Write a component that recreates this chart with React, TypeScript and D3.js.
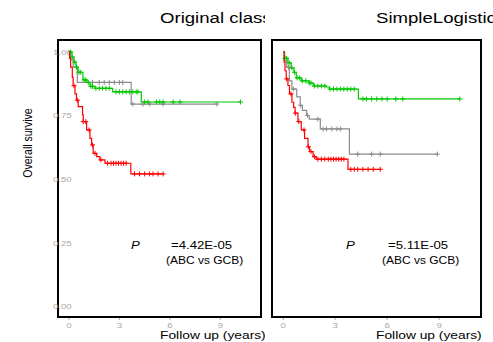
import React from 'react';
import * as d3 from 'd3';

type Step = [number, number];

// Original class panel: [time (years), survival] steps
const origGcb: Step[] = [[0, 1], [0.18, 0.98], [0.3, 0.96], [0.42, 0.94], [0.54, 0.92], [0.83, 0.89], [1.07, 0.88], [1.25, 0.865], [1.55, 0.857], [2.6, 0.843], [4.3, 0.803]];
const origGcbEnd = 10.2;
const origGcbCensor = [0.1, 0.2, 0.35, 0.45, 0.6, 0.7, 0.9, 1.0, 1.15, 1.3, 1.4, 1.6, 1.8, 2.0, 2.2, 2.4, 2.8, 3.0, 3.2, 3.4, 3.6, 3.8, 4.0, 4.1, 4.5, 4.7, 5.2, 5.4, 5.6, 6.2, 6.6, 10.2];

const origUnc: Step[] = [[0, 1], [0.1, 0.97], [0.25, 0.94], [0.5, 0.88], [3.7, 0.795]];
const origUncEnd = 8.8;
const origUncCensor = [1.4, 1.8, 2.1, 2.4, 2.7, 3.0, 3.2, 3.8, 4.4, 4.8, 5.6, 8.8];

const origAbc: Step[] = [[0, 1], [0.04, 0.975], [0.1, 0.94], [0.2, 0.9], [0.25, 0.867], [0.36, 0.835], [0.45, 0.81], [0.55, 0.785], [0.81, 0.752], [0.85, 0.726], [1.05, 0.693], [1.25, 0.66], [1.35, 0.634], [1.44, 0.601], [1.65, 0.588], [1.84, 0.575], [2.14, 0.562], [3.68, 0.52]];
const origAbcEnd = 5.6;
const origAbcCensor = [0.3, 0.5, 0.85, 1.0, 1.2, 1.4, 1.55, 1.9, 2.3, 2.5, 2.65, 2.8, 2.95, 3.1, 3.25, 3.4, 3.9, 4.2, 4.5, 4.8, 5.0, 5.3, 5.6];

// SimpleLogistic panel
const slGcb: Step[] = [[0, 1], [0.08, 0.975], [0.27, 0.957], [0.46, 0.937], [0.62, 0.92], [0.75, 0.898], [1.04, 0.886], [1.5, 0.878], [1.73, 0.866], [2.49, 0.862], [2.66, 0.854], [4.34, 0.815]];
const slGcbEnd = 10.2;
const slGcbCensor = [0.1, 0.2, 0.35, 0.5, 0.65, 0.8, 0.95, 1.1, 1.3, 1.5, 1.6, 1.8, 2.0, 2.2, 2.4, 2.7, 2.9, 3.1, 3.3, 3.5, 3.7, 3.9, 4.1, 4.6, 4.8, 5.1, 5.4, 5.7, 6.0, 6.5, 6.9, 10.2];

const slUnc: Step[] = [[0, 1], [0.05, 0.965], [0.2, 0.94], [0.35, 0.886], [0.5, 0.854], [0.78, 0.823], [0.98, 0.79], [1.1, 0.77], [1.35, 0.75], [1.5, 0.736], [2.14, 0.697], [3.82, 0.598]];
const slUncEnd = 8.9;
const slUncCensor = [0.3, 0.6, 1.0, 1.4, 2.0, 2.3, 2.5, 2.8, 3.1, 3.3, 4.3, 5.1, 5.6, 8.9];

const slAbc: Step[] = [[0, 1], [0.05, 0.96], [0.1, 0.926], [0.17, 0.894], [0.27, 0.868], [0.36, 0.835], [0.5, 0.802], [0.6, 0.782], [0.68, 0.759], [0.85, 0.726], [1.04, 0.693], [1.23, 0.66], [1.43, 0.627], [1.52, 0.608], [1.72, 0.588], [1.9, 0.578], [3.74, 0.538]];
const slAbcEnd = 5.66;
const slAbcCensor = [0.2, 0.45, 0.7, 0.9, 1.2, 1.45, 1.6, 1.8, 2.0, 2.2, 2.4, 2.6, 2.75, 2.9, 3.05, 3.2, 3.35, 3.5, 3.9, 4.1, 4.3, 4.6, 4.9, 5.2, 5.6];

const xTicks = [0, 3, 6, 9];
const yTicks = [0, 0.25, 0.5, 0.75, 1];

const GREEN = '#00c800';
const RED = '#ff0000';
const GRAY = '#8c8c8c';
const TICK = '#a8a8a8';
const SX = 1.2; // horizontal text stretch of the picture

const survAt = (steps: Step[], t: number) => {
  let s = steps[0][1];
  for (const [tt, ss] of steps) if (tt <= t) s = ss;
  return s;
};

interface Curve { steps: Step[]; end: number; censor: number[]; color: string }

interface PanelProps {
  title: string;
  x0: number; x1: number;
  clipX0: number; clipX1: number;
  curves: Curve[];
  pValue: string;
  pX: number; eqX: number; vsX: number;
  showY: boolean;
  id: string;
}

const Panel = ({ title, x0, x1, clipX0, clipX1, curves, pValue, pX, eqX, vsX, showY, id }: PanelProps) => {
  const y0 = 40, y1 = 317;
  const x = d3.scaleLinear().domain([-0.65, 11.42]).range([x0, x1]);
  const y = d3.scaleLinear().domain([-0.043, 1.047]).range([y1, y0]);
  const line = d3.line<Step>().x(d => x(d[0])).y(d => y(d[1])).curve(d3.curveStepAfter);
  const st = (tx: number, ty: number, sx = SX) => `translate(${tx},${ty}) scale(${sx},1)`;
  return (
    <g clipPath={`url(#${id})`}>
      <defs>
        <clipPath id={id}><rect x={clipX0} y={0} width={clipX1 - clipX0} height={342} /></clipPath>
      </defs>
      <text transform={st(clipX0 + (showY ? 160 : 111), 23)} fontSize={15.5} fontFamily="Arial, 'Liberation Sans', sans-serif">{title}</text>
      {showY && (
        <text transform={`translate(32,143) rotate(-90) scale(1,${SX})`} textAnchor="middle" fontSize={10.5} fontFamily="Arial, 'Liberation Sans', sans-serif">Overall survive</text>
      )}
      <rect x={x0} y={y0} width={x1 - x0} height={y1 - y0} fill="none" stroke="#000" strokeWidth={2} />
      {showY && yTicks.map(v => (
        <text key={v} transform={st(53, y(v) + 3)} fontSize={8} fill={TICK} fontFamily="Arial, 'Liberation Sans', sans-serif">{v.toFixed(2)}</text>
      ))}
      {xTicks.map(v => (
        <g key={v}>
          <line x1={x(v)} x2={x(v)} y1={y1 + 1} y2={y1 + 3} stroke={TICK} strokeWidth={1} />
          <text transform={st(x(v), 327.5)} textAnchor="middle" fontSize={8} fill={TICK} fontFamily="Arial, 'Liberation Sans', sans-serif">{v}</text>
        </g>
      ))}
      {curves.map((c, i) => {
        const pts: Step[] = [...c.steps, [c.end, c.steps[c.steps.length - 1][1]]];
        return (
          <g key={i}>
            <path d={line(pts) ?? ''} fill="none" stroke={c.color} strokeWidth={1.2} />
            {c.censor.map((t, j) => {
              const cx = x(t), cy = y(survAt(c.steps, t));
              return (
                <g key={j} stroke={c.color} strokeWidth={1}>
                  <line x1={cx - 2.5} x2={cx + 2.5} y1={cy} y2={cy} />
                  <line x1={cx} x2={cx} y1={cy - 2.5} y2={cy + 2.5} />
                </g>
              );
            })}
          </g>
        );
      })}
      <text transform={st(pX, 249)} fontSize={11} fontStyle="italic" fontFamily="Arial, 'Liberation Sans', sans-serif">P</text>
      <text transform={st(eqX, 249)} fontSize={11} fontFamily="Arial, 'Liberation Sans', sans-serif">{pValue}</text>
      <text transform={st(vsX, 264)} fontSize={10} fontFamily="Arial, 'Liberation Sans', sans-serif">(ABC vs GCB)</text>
      <text transform={st(clipX0 + (showY ? 160 : 111), 338.5)} fontSize={11.5} fontFamily="Arial, 'Liberation Sans', sans-serif">Follow up (years)</text>
    </g>
  );
};

export default function App() {
  return (
    <svg width={493} height={342} style={{ position: 'absolute', left: 0, top: 0, background: '#fff' }}>
      <rect width={493} height={342} fill="#fff" />
      <Panel
        id="clipL" title="Original class" x0={58} x1={261} clipX0={0} clipX1={265}
        curves={[
          { steps: origUnc, end: origUncEnd, censor: origUncCensor, color: GRAY },
          { steps: origGcb, end: origGcbEnd, censor: origGcbCensor, color: GREEN },
          { steps: origAbc, end: origAbcEnd, censor: origAbcCensor, color: RED },
        ]}
        pValue="=4.42E-05" pX={131} eqX={171} vsX={166} showY
      />
      <Panel
        id="clipR" title="SimpleLogistic" x0={272} x1={481} clipX0={265} clipX1={493}
        curves={[
          { steps: slUnc, end: slUncEnd, censor: slUncCensor, color: GRAY },
          { steps: slGcb, end: slGcbEnd, censor: slGcbCensor, color: GREEN },
          { steps: slAbc, end: slAbcEnd, censor: slAbcCensor, color: RED },
        ]}
        pValue="=5.11E-05" pX={346} eqX={388} vsX={382} showY={false}
      />
    </svg>
  );
}
